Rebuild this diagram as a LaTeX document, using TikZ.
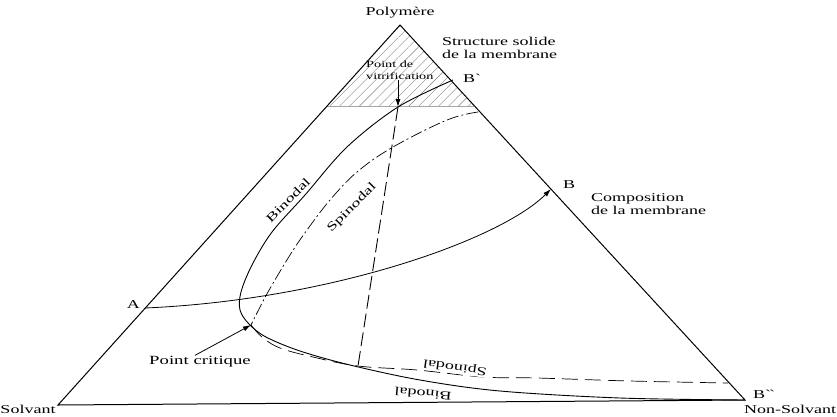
\documentclass[tikz,border=0pt]{standalone}
\usepackage{fontspec}
\setmainfont[FakeStretch=1.5]{Liberation Serif}
\usetikzlibrary{arrows.meta,patterns.meta}

\begin{document}
\begin{tikzpicture}[x=1pt, y=-1pt,
  side/.style={line width=1pt},
  bino/.style={line width=0.9pt},
  spino/.style={line width=0.7pt, dash pattern=on 12pt off 3pt on 2pt off 3pt},
  spinolow/.style={line width=0.7pt, dash pattern=on 16pt off 7pt},
  vitline/.style={line width=0.9pt, dash pattern=on 14pt off 5pt},
  arr/.style={-{Latex[length=8pt,width=5pt]}, line width=0.8pt},
  lbl/.style={font=\fontsize{12}{13.5}\selectfont, inner sep=1pt},
  small/.style={font=\fontsize{9.5}{11.5}\selectfont, inner sep=0pt, align=left},
]
\useasboundingbox (0,0) rectangle (837,416);

% corners
\coordinate (P) at (400,25);
\coordinate (S) at (58,405);
\coordinate (N) at (745,400);

% solid zone
\fill[pattern={Lines[angle=45,distance=7pt,line width=0.4pt]}, pattern color=gray]
  (P) -- (327,106) -- (474,106) -- cycle;
\draw[gray!70, line width=0.4pt] (327,106) -- (474,106);

\draw[side] (P) -- (S) -- (N) -- cycle;

% points
\coordinate (Bp) at (453,80);
\coordinate (B) at (551,189);
\coordinate (A) at (145,308);
\coordinate (crit) at (251,325);
\coordinate (V) at (398,107);
\coordinate (Vb) at (358,366);

% binodal
\draw[bino] plot[smooth, tension=0.55] coordinates {(Bp) (V) (347,147) (305,195)
  (272,232) (252,265) (241,292) (240,310) (249,324) (266,337) (300,351)
  (350,365) (420,380) (500,391) (620,398) (N)};

% spinodal
\draw[spino] plot[smooth, tension=0.6] coordinates {(478,112) (447,120) (393,147)
  (357,172) (330,200) (307,230) (290,255) (268,292) (257,313) (crit)};
\draw[spinolow] plot[smooth, tension=0.6] coordinates {(crit) (262,337) (280,348)
  (313,357) (Vb) (417,370) (483,377) (537,378) (630,381) (728,383)};

% vitrification line
\draw[vitline] (V) -- (Vb);

% path A -> B
\draw[arr] (A) .. controls (330,300) and (500,240) .. (B);

% labels
\node[lbl] (poly) at (400,13) {Polymère};
\node[lbl, align=left, anchor=west] (struct) at (441,48) {Structure solide\\de la membrane};
\node[lbl, anchor=west] (bplab) at (462,78) {B\textasciigrave};
\node[lbl, anchor=west] (blab) at (562,185) {B};
\node[lbl, align=left, anchor=west] (compo) at (590,204) {Composition\\de la membrane};
\node[lbl, anchor=east] (alab) at (141,305) {A};
\node[lbl, anchor=west] (bpplab) at (752,394) {B\textasciigrave\textasciigrave};
\node[lbl, anchor=north] (solv) at (28,404) {Solvant};
\node[lbl, anchor=north] (nsolv) at (790,404) {Non-Solvant};

\node[small, anchor=north west] (vit) at (366,61) {Point de\\vitrification};
\draw[arr] (vit.south -| V) -- (V);

\node[lbl, font=\fontsize{12.5}{14}\selectfont] (pcrit) at (200,362) {Point critique};
\draw[arr] ([xshift=-5pt]pcrit.north) -- (crit);

\node[lbl, rotate=45] (binoup) at (288,200) {Binodal};
\node[lbl, rotate=45] (spinoup) at (352,208) {Spinodal};
\node[lbl, rotate=172, fill=white] (spinodown) at (455,367) {Spinodal};
\node[lbl, rotate=175] (binodown) at (423,394) {Binodal};
\end{tikzpicture}
\end{document}
